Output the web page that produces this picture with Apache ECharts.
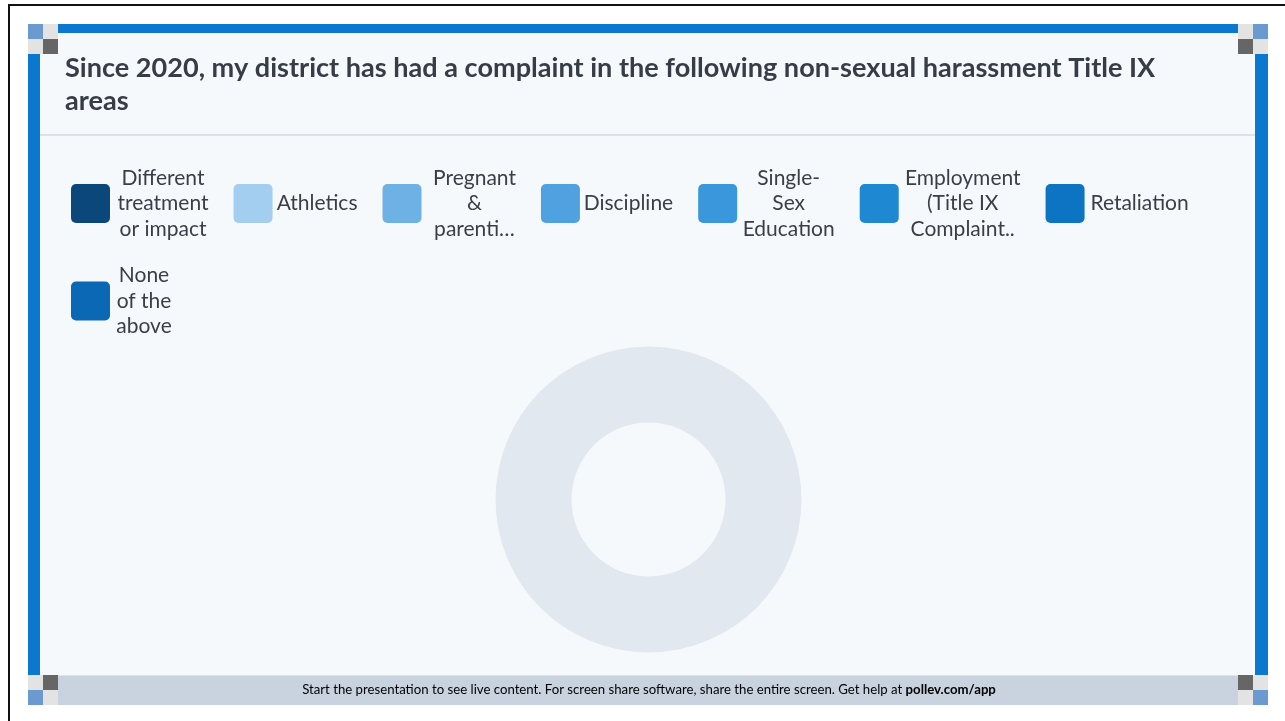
<!DOCTYPE html>
<html>
<head>
<meta charset="utf-8">
<script src="https://cdn.jsdelivr.net/npm/echarts@6/dist/echarts.min.js"></script>
<style>
  html, body { margin: 0; padding: 0; background: #ffffff; }
  #chart { width: 1285px; height: 721px; }
</style>
</head>
<body>
<div id="chart"></div>
<script>
// ---- data ----
const titleText = 'Since 2020, my district has had a complaint in the following non-sexual harassment Title IX\nareas';
const categories = [
  'Different treatment or impact',
  'Athletics',
  'Pregnant & parenti…',
  'Discipline',
  'Single-Sex Education',
  'Employment (Title IX Complaint..',
  'Retaliation',
  'None of the above'
];
const legendLines = [
  ['Different', 'treatment', 'or impact'],
  ['Athletics'],
  ['Pregnant', '&', 'parenti…'],
  ['Discipline'],
  ['Single-', 'Sex', 'Education'],
  ['Employment', '(Title IX', 'Complaint..'],
  ['Retaliation'],
  ['None', 'of the', 'above']
];
const values = [0, 0, 0, 0, 0, 0, 0, 0];
const footerText = 'Start the presentation to see live content. For screen share software, share the entire screen. Get help at ';
const footerLink = 'pollev.com/app';

// ---- styles / layout ----
const palette = ['#0b477a', '#a3ceef', '#6eb1e4', '#4fa2df', '#3b97db', '#1f88d3', '#0c74c2', '#0b68b4'];
const legendTextWidths = [96, 79, 96, 87, 93, 118, 100, 58];

const FONT = 'Lato';
const chart = echarts.init(document.getElementById('chart'), null, { renderer: 'canvas' });

const labelMap = {};
categories.forEach((c, i) => { labelMap[c] = legendLines[i]; });

const legendText = {
  fontFamily: FONT,
  fontSize: 21,
  color: '#3a3f47',
  rich: {
    c: { align: 'center', fontFamily: FONT, fontSize: 21, lineHeight: 25.5, color: '#3a3f47' }
  }
};
const legendFormatter = name => labelMap[name].map(l => '{c|' + l + '}').join('\n');
const iconPath = 'path://M5,0H34A5,5,0,0,1,39,5V34A5,5,0,0,1,34,39H5A5,5,0,0,1,0,34V5A5,5,0,0,1,5,0Z';
const legendItems = (from, to) => categories.slice(from, to).map((c, k) => ({
  name: c,
  textStyle: { width: legendTextWidths[from + k], overflow: 'none' }
}));

function sq(x, y, color) {
  return { type: 'rect', shape: { x: x, y: y, width: 15, height: 15 }, style: { fill: color }, silent: true };
}
const BG = '#6a9acf', LG = '#e3e3e3', DG = '#666666';

const option = {
  backgroundColor: '#ffffff',
  animation: false,
  graphic: [
    { type: 'rect', z: -10, shape: { x: 8, y: 4, width: 1277, height: 2 }, style: { fill: '#111' }, silent: true },
    { type: 'rect', z: -10, shape: { x: 8, y: 4, width: 2, height: 717 }, style: { fill: '#111' }, silent: true },
    { type: 'rect', z: -10, shape: { x: 28, y: 24, width: 1240, height: 681 }, style: { fill: '#0b78d0' }, silent: true },
    { type: 'rect', z: -9, shape: { x: 40, y: 33, width: 1215, height: 660, r: 14 }, style: { fill: '#f6f9fc' }, silent: true },
    { type: 'rect', z: -8, shape: { x: 28, y: 675, width: 1240, height: 30 }, style: { fill: '#c9d3df' }, silent: true },
    { type: 'rect', z: -8, shape: { x: 28, y: 675, width: 1240, height: 1 }, style: { fill: '#dfe5ec' }, silent: true },
    { type: 'rect', z: -8, shape: { x: 40, y: 134, width: 1215, height: 2 }, style: { fill: '#dde2e8' }, silent: true },
    {
      type: 'group', z: -7, silent: true,
      children: [
        sq(28, 24, BG), sq(43, 24, LG), sq(28, 39, LG), sq(43, 39, DG),
        sq(1238, 24, LG), sq(1253, 24, BG), sq(1238, 39, DG), sq(1253, 39, LG),
        sq(28, 675, LG), sq(43, 675, DG), sq(28, 690, BG), sq(43, 690, LG),
        sq(1238, 675, DG), sq(1253, 675, LG), sq(1238, 690, LG), sq(1253, 690, BG)
      ]
    },
    {
      type: 'text', z: 5, silent: true,
      x: 649, y: 690,
      style: {
        text: '{n|' + footerText + '}{b|' + footerLink + '}',
        align: 'center', verticalAlign: 'middle',
        rich: {
          n: { fontFamily: FONT, fontSize: 13.2, color: '#333a42' },
          b: { fontFamily: FONT, fontSize: 13.2, fontWeight: 'bold', color: '#2a3038' }
        }
      }
    }
  ],
  title: {
    text: titleText,
    left: 65, top: 52, padding: 0,
    textStyle: { fontFamily: FONT, fontSize: 27.1, fontWeight: 'bold', lineHeight: 32.5, color: '#373d46' }
  },
  legend: [
    {
      data: legendItems(0, 7),
      left: 71, top: 167.5, padding: 0,
      orient: 'horizontal', itemGap: 25,
      itemWidth: 39, itemHeight: 39, icon: iconPath,
      formatter: legendFormatter, textStyle: legendText,
      selectedMode: false
    },
    {
      data: legendItems(7, 8),
      left: 71, top: 265, padding: 0,
      orient: 'horizontal', itemGap: 25,
      itemWidth: 39, itemHeight: 39, icon: iconPath,
      formatter: legendFormatter, textStyle: legendText,
      selectedMode: false
    }
  ],
  series: [
    {
      name: 'No responses',
      type: 'pie',
      silent: true,
      z: 1,
      center: [648.5, 499.5],
      radius: [77, 153],
      label: { show: false }, labelLine: { show: false },
      itemStyle: { color: '#e2e8f0', borderWidth: 0 },
      data: [{ value: 1, name: '' }]
    },
    {
      name: 'Responses',
      type: 'pie',
      z: 2,
      center: [648.5, 499.5],
      radius: [77, 153],
      stillShowZeroSum: false,
      label: { show: false }, labelLine: { show: false },
      itemStyle: { borderWidth: 0 },
      data: categories.map((c, i) => ({ name: c, value: values[i], itemStyle: { color: palette[i] } }))
    }
  ]
};
chart.setOption(option);
</script>
</body>
</html>
